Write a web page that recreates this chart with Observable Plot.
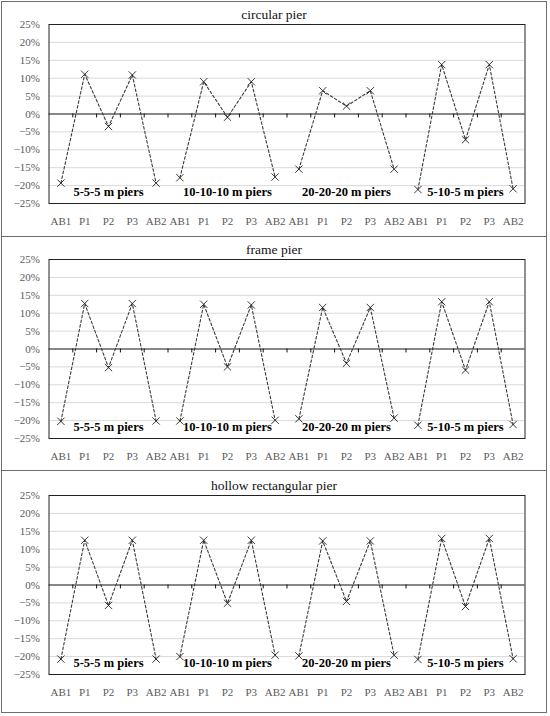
<!DOCTYPE html>
<html>
<head>
<meta charset="utf-8">
<script src="https://cdn.jsdelivr.net/npm/d3@7"></script>
<script src="https://cdn.jsdelivr.net/npm/@observablehq/plot@0.6"></script>
<style>
  body { margin: 0; background: white; }
  #charts { position: absolute; left: 1px; top: 1px; width: 546px; }
  .panel { border: 1.5px solid #6e6e6e; margin-top: -1.5px; background: white; }
  .panel:first-child { margin-top: 0; }
  .panel.last { padding-top: 2px; padding-bottom: 5px; }
  .title {
    height: 13px; line-height: 20px; padding-top: 3px;
    text-align: center; font-family: "Liberation Serif", serif; font-size: 13.5px; color: #111;
  }
  .panel svg { display: block; }
  .panel svg text { font-family: "Liberation Serif", serif; }
</style>
</head>
<body>
<div id="charts"></div>
<script>
const cats = ["AB1", "P1", "P2", "P3", "AB2"];
const groups = ["5-5-5 m piers", "10-10-10 m piers", "20-20-20 m piers", "5-10-5 m piers"];
const titles = ["circular pier", "frame pier", "hollow rectangular pier"];
const yTicks = [-25, -20, -15, -10, -5, 0, 5, 10, 15, 20, 25];

// values in %, 4 groups x (AB1, P1, P2, P3, AB2)
const circular = [
  -19.3, 11.1, -3.5, 10.9, -19.3,
  -17.8, 9.0, -0.9, 9.0, -17.6,
  -15.4, 6.5, 2.2, 6.5, -15.4,
  -21.1, 13.8, -7.2, 13.8, -20.9
];
const frame = [
  -20.2, 12.7, -5.2, 12.7, -20.1,
  -20.1, 12.5, -5.0, 12.3, -19.9,
  -19.5, 11.6, -4.0, 11.6, -19.3,
  -21.3, 13.2, -5.9, 13.2, -21.1
];
const hollow = [
  -20.7, 12.5, -5.7, 12.5, -20.7,
  -20.0, 12.5, -5.1, 12.5, -19.6,
  -19.8, 12.3, -4.6, 12.3, -19.6,
  -20.8, 13.0, -6.0, 13.0, -20.6
];

const serif = "Liberation Serif, serif";

function fmtPct(d) {
  return (d < 0 ? "\u2212" : "") + Math.abs(d) + "%";
}

function drawPanel(title, values, isLast) {
  const panel = document.createElement("div");
  panel.className = "panel" + (isLast ? " last" : "");
  const head = document.createElement("div");
  head.className = "title";
  head.textContent = title;
  panel.appendChild(head);

  const rows = values.map((v, i) => ({i: i, g: Math.floor(i / 5), v: v}));
  const bounds = d3.range(1, values.length).map(i => i - 0.5);

  const chart = Plot.plot({
    width: 543,
    height: 218,
    marginLeft: 46.5,
    marginRight: 20.5,
    marginTop: 6,
    marginBottom: 33,
    style: {fontFamily: serif, fontSize: "11px", color: "#5a5a5a", background: "white"},
    x: {domain: [-0.5, values.length - 0.5], axis: null, label: null},
    y: {domain: [-25, 25], axis: null, label: null},
    marks: [
      Plot.ruleY(yTicks.filter(t => t !== 0), {stroke: "#d9d9d9", strokeWidth: 1}),
      Plot.ruleY([0], {stroke: "#111", strokeWidth: 1}),
      Plot.ruleX(bounds, {y1: 0, y2: -1.1, stroke: "#111", strokeWidth: 1}),
      Plot.line(rows, {x: "i", y: "v", z: "g", stroke: "#3a3a3a", strokeWidth: 1.1, strokeDasharray: "2.6,2.2"}),
      Plot.dot(rows, {x: "i", y: "v", symbol: "times", r: 3.4, stroke: "#222", strokeWidth: 0.9}),
      Plot.text(groups, {
        x: (d, k) => k * 5 + 2,
        frameAnchor: "bottom",
        dy: -8,
        text: d => d,
        fontFamily: serif,
        fontWeight: "bold",
        fontSize: 12.5,
        fill: "#000"
      }),
      Plot.frame({stroke: "#222", strokeWidth: 1}),
      Plot.axisY({ticks: yTicks, tickSize: 0, tickPadding: 9, tickFormat: fmtPct, label: null, fontFamily: serif}),
      Plot.axisX({ticks: d3.range(values.length), tickSize: 0, tickPadding: 14, tickFormat: i => cats[i % 5], label: null, fontFamily: serif})
    ]
  });
  panel.appendChild(chart);
  return panel;
}

const holder = document.getElementById("charts");
[circular, frame, hollow].forEach((vals, k) => {
  holder.appendChild(drawPanel(titles[k], vals, k === 2));
});
</script>
</body>
</html>
